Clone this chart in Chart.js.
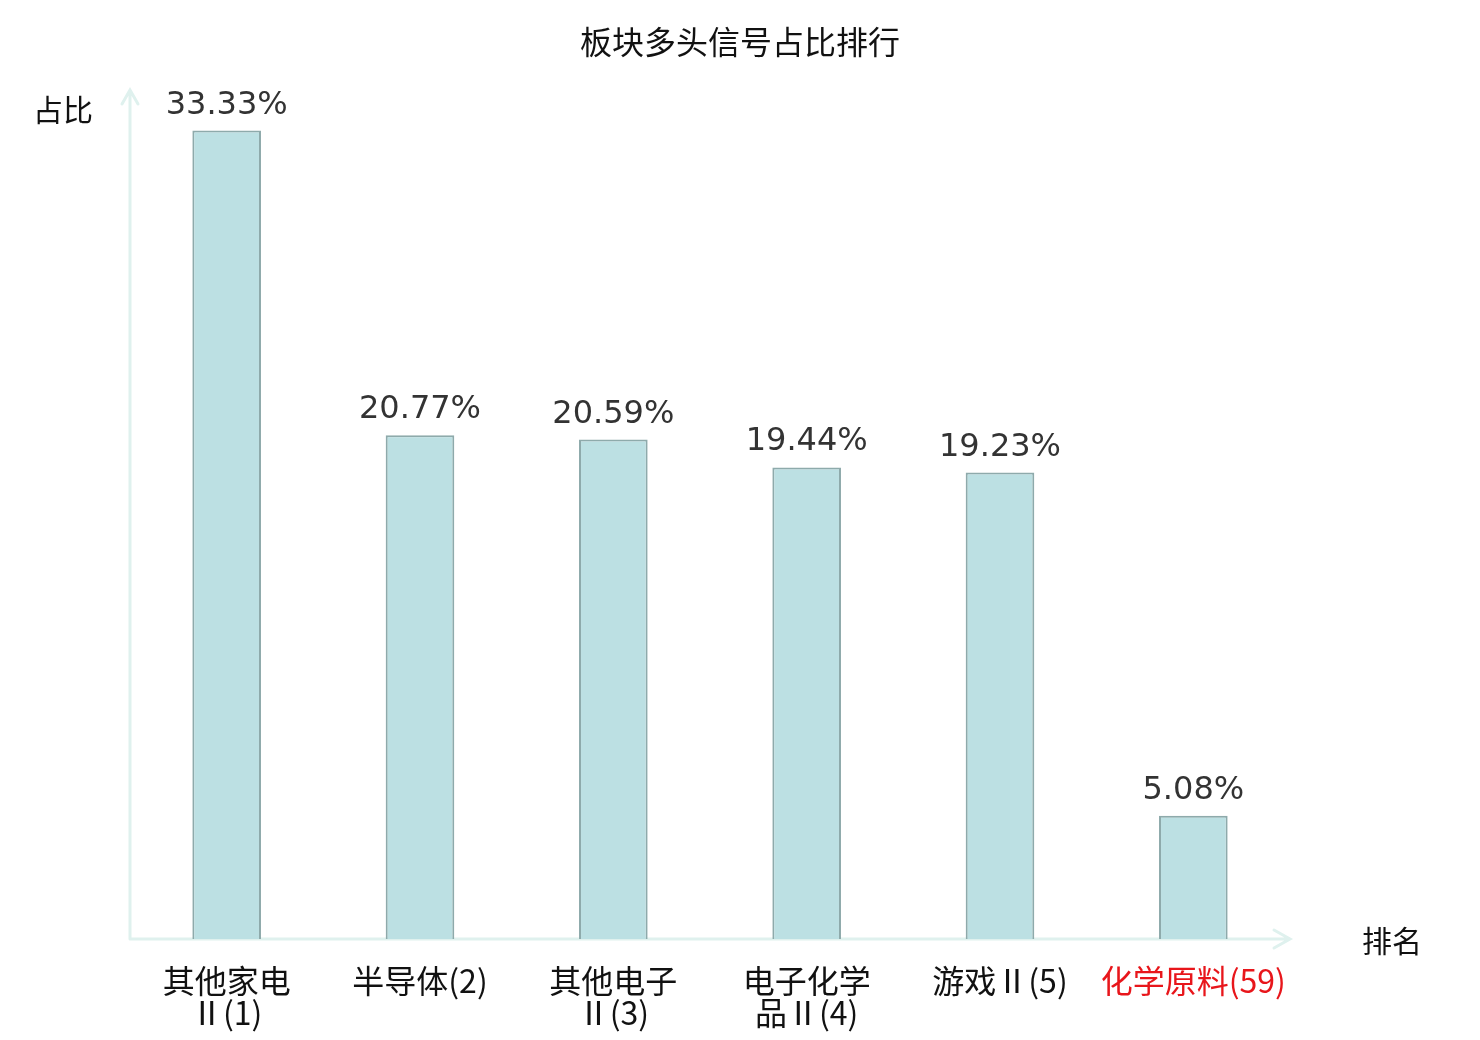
<!DOCTYPE html>
<html>
<head>
<meta charset="utf-8">
<script src="https://cdn.jsdelivr.net/npm/chart.js@4"></script>
<style>
html,body{margin:0;padding:0;background:#fff;}
#wrap{width:1480px;height:1040px;}
</style>
</head>
<body>
<div id="wrap"><canvas id="c" width="1480" height="1040"></canvas></div>
<script>
const categories = [["其他家电","Ⅱ(1)"],["半导体(2)"],["其他电子","Ⅱ(3)"],["电子化学","品Ⅱ(4)"],["游戏Ⅱ(5)"],["化学原料(59)"]];
const values = [33.33, 20.77, 20.59, 19.44, 19.23, 5.08];
const valueLabels = ["33.33%","20.77%","20.59%","19.44%","19.23%","5.08%"];
const labelColors = ["#111","#111","#111","#111","#111","#e8161b"];
const titleText = "板块多头信号占比排行";
const yAxisName = "占比";
const xAxisName = "排名";

const axisColor = "#dff1ee";
const cjk = "'Noto Sans CJK SC', 'DejaVu Sans', sans-serif";

const decor = {
  id: 'decor',
  beforeDatasetsDraw(chart) {
    const ctx = chart.ctx, a = chart.chartArea;
    ctx.save();
    ctx.strokeStyle = axisColor;
    ctx.lineWidth = 3;
    ctx.lineCap = 'round';
    ctx.beginPath();
    ctx.moveTo(a.left, a.bottom);
    ctx.lineTo(a.left, a.top);
    ctx.moveTo(a.left - 8, a.top + 14);
    ctx.lineTo(a.left, a.top);
    ctx.lineTo(a.left + 8, a.top + 14);
    ctx.moveTo(a.left, a.bottom);
    ctx.lineTo(a.right, a.bottom);
    ctx.moveTo(a.right - 16, a.bottom - 9);
    ctx.lineTo(a.right, a.bottom);
    ctx.lineTo(a.right - 16, a.bottom + 9);
    ctx.stroke();
    ctx.restore();
  },
  afterDatasetsDraw(chart) {
    const ctx = chart.ctx, a = chart.chartArea;
    ctx.save();
    ctx.fillStyle = '#111';
    ctx.textAlign = 'center';
    ctx.textBaseline = 'middle';
    ctx.font = "32px " + cjk;
    ctx.fillText(titleText, chart.width / 2, 42);
    ctx.font = "30px " + cjk;
    ctx.fillText(yAxisName, 63, 110);
    ctx.fillText(xAxisName, 1392, 941);
    const meta = chart.getDatasetMeta(0);
    ctx.fillStyle = '#333';
    ctx.font = "32px 'DejaVu Sans', sans-serif";
    ctx.textBaseline = 'alphabetic';
    meta.data.forEach((bar, i) => {
      ctx.fillText(valueLabels[i], bar.x, bar.y - 17);
    });
    ctx.restore();
  }
};

new Chart(document.getElementById('c'), {
  type: 'bar',
  data: {
    labels: categories,
    datasets: [{
      data: values,
      backgroundColor: '#bce0e3',
      borderColor: '#8eaaab',
      borderWidth: 2,
      borderSkipped: 'bottom',
      categoryPercentage: 1,
      barPercentage: 0.355
    }]
  },
  options: {
    responsive: false,
    animation: false,
    layout: { padding: { top: 90, left: 130, right: 190, bottom: 0 } },
    plugins: { legend: { display: false }, tooltip: { enabled: false }, title: { display: false } },
    scales: {
      y: { display: false, min: 0, max: 35 },
      x: {
        grid: { display: false, drawTicks: false },
        border: { display: false },
        ticks: {
          padding: 26,
          maxRotation: 0,
          autoSkip: false,
          color: (c) => labelColors[c.index],
          font: { size: 32, family: cjk, lineHeight: 1.0 }
        },
        afterFit(scale) { scale.height = 101; }
      }
    }
  },
  plugins: [decor]
});
</script>
</body>
</html>
